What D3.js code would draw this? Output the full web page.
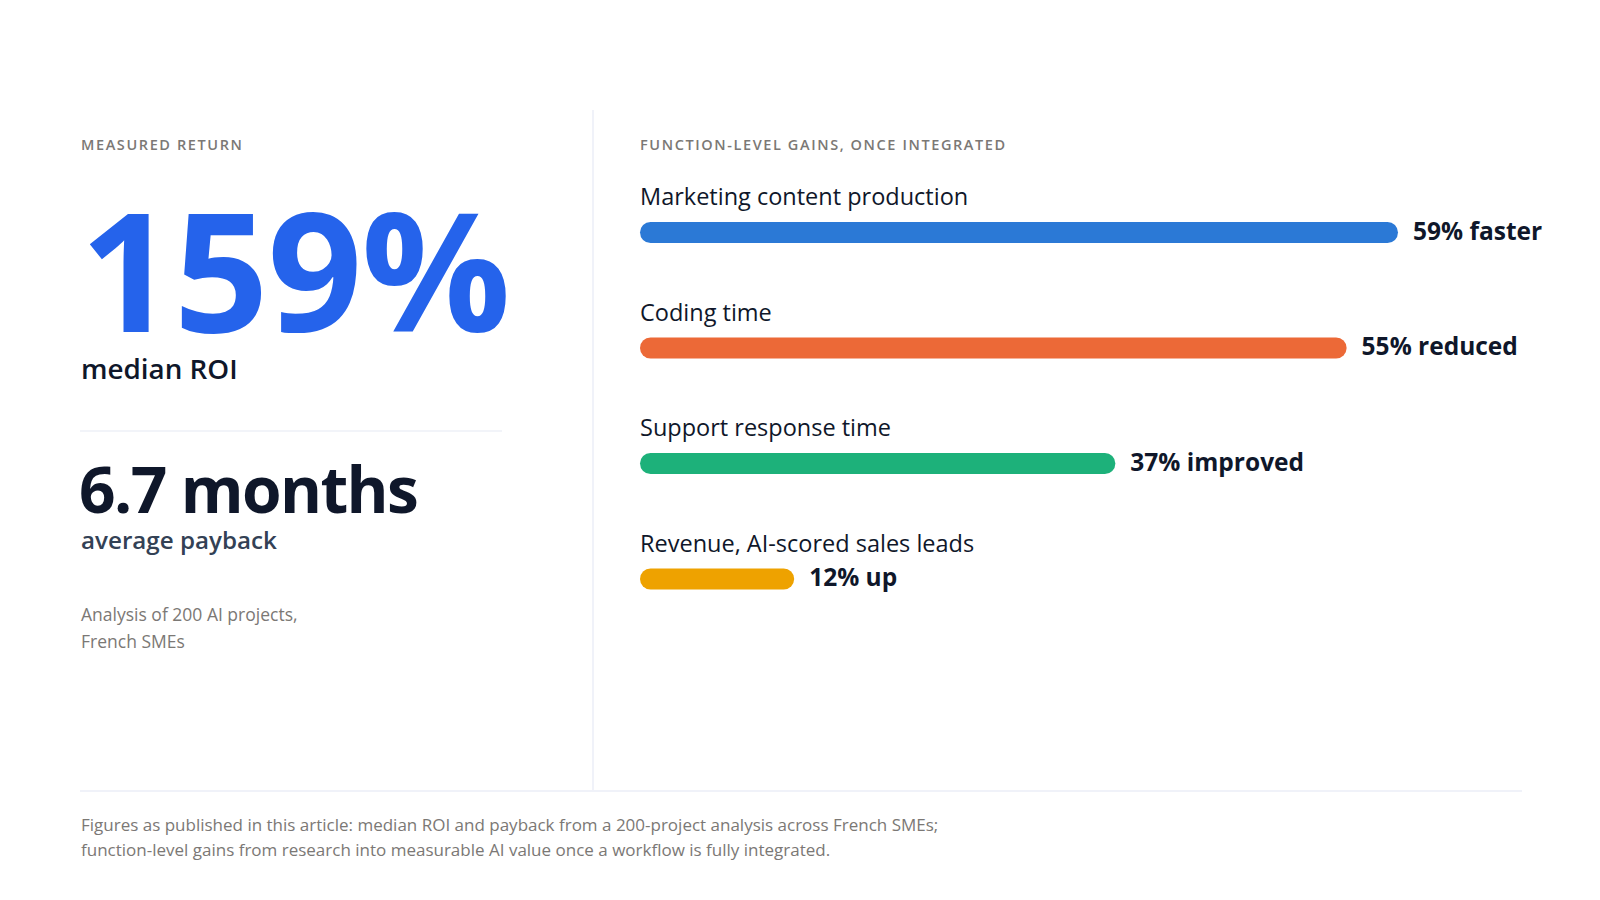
<!DOCTYPE html>
<html>
<head>
<meta charset="utf-8">
<script src="https://cdn.jsdelivr.net/npm/d3@7"></script>
<style>
  html, body { margin: 0; padding: 0; background: #ffffff; }
  svg text { font-family: "Open Sans", "Noto Sans", sans-serif; }
</style>
</head>
<body>
<div class="canvas"></div>
<script>
// ---- DATA --- //
const gainLabels = ['Marketing content production', 'Coding time', 'Support response time', 'Revenue, AI-scored sales leads'];
const gainValues = [59, 55, 37, 12];
const gainWords = ['faster', 'reduced', 'improved', 'up'];

const roiValue = 159;
const paybackMonths = 6.7;

const leftKicker = 'MEASURED RETURN';
const rightKicker = 'FUNCTION-LEVEL GAINS, ONCE INTEGRATED';
const sourceNote = ['Analysis of 200 AI projects,', 'French SMEs'];
const footNote = [
    'Figures as published in this article: median ROI and payback from a 200-project analysis across French SMEs;',
    'function-level gains from research into measurable AI value once a workflow is fully integrated.'
];

const barColors = ['#2b79d6', '#ec6937', '#1db17a', '#eea200'];


// ---- CONTAINER SETUP --- //
const width = 1600;
const height = 900;
const left = 81;
const barLeft = 640;

const svg = d3.select('.canvas')
    .append('svg')
    .attr('width', width)
    .attr('height', height);

// dividers
svg.append('line')
    .attr('x1', 593).attr('x2', 593)
    .attr('y1', 110).attr('y2', 790)
    .attr('stroke', '#f0f2f9').attr('stroke-width', 2);

svg.append('line')
    .attr('x1', 80).attr('x2', 1522)
    .attr('y1', 791).attr('y2', 791)
    .attr('stroke', '#f0f2f9').attr('stroke-width', 2);

svg.append('line')
    .attr('x1', 80).attr('x2', 502)
    .attr('y1', 431).attr('y2', 431)
    .attr('stroke', '#f2f4f9').attr('stroke-width', 2);


// ---- LEFT PANEL --- //
const leftPanel = svg.append('g');

leftPanel.append('text')
    .attr('x', left).attr('y', 150)
    .attr('font-size', 14.5).attr('font-weight', 600)
    .attr('letter-spacing', 1.6)
    .attr('fill', '#7b7875')
    .text(leftKicker);

leftPanel.append('text')
    .attr('x', left - 1).attr('y', 332)
    .attr('font-size', 166).attr('font-weight', 700)
    .attr('letter-spacing', -1.2)
    .attr('fill', '#2563eb')
    .text(`${roiValue}%`);

leftPanel.append('text')
    .attr('x', left).attr('y', 379)
    .attr('font-size', 27.8).attr('font-weight', 600)
    .attr('fill', '#0f172a')
    .text('median ROI');

leftPanel.append('text')
    .attr('x', left - 2).attr('y', 513)
    .attr('font-size', 64).attr('font-weight', 700)
    .attr('letter-spacing', -1.6)
    .attr('fill', '#0f172a')
    .text(`${paybackMonths} months`);

leftPanel.append('text')
    .attr('x', left).attr('y', 549)
    .attr('font-size', 24.2).attr('font-weight', 600)
    .attr('fill', '#334155')
    .text('average payback');

leftPanel.selectAll('text.note')
    .data(sourceNote)
    .enter()
    .append('text')
    .attr('class', 'note')
    .attr('x', left)
    .attr('y', (d, i) => 621 + i * 26.5)
    .attr('font-size', 17.5)
    .attr('fill', '#7b7875')
    .text(d => d);


// ---- RIGHT PANEL: SCALES --- //
const xScale = d3.scaleLinear()
    .domain([0, d3.max(gainValues)])
    .range([barLeft, 1398]);

const rowScale = d3.scalePoint()
    .domain(gainLabels)
    .range([232.5, 579]);

const barHeight = 21;

svg.append('text')
    .attr('x', barLeft).attr('y', 150)
    .attr('font-size', 14.5).attr('font-weight', 600)
    .attr('letter-spacing', 1.6)
    .attr('fill', '#7b7875')
    .text(rightKicker);

const rows = svg.selectAll('g.row')
    .data(gainLabels)
    .enter()
    .append('g')
    .attr('class', 'row')
    .attr('transform', d => `translate(0, ${rowScale(d)})`);

rows.append('text')
    .attr('x', barLeft)
    .attr('y', -27.5)
    .attr('font-size', 23.5)
    .attr('fill', '#0f172a')
    .text(d => d);

rows.append('rect')
    .attr('x', xScale(0))
    .attr('y', -barHeight / 2)
    .attr('width', (d, i) => xScale(gainValues[i]) - xScale(0))
    .attr('height', barHeight)
    .attr('rx', barHeight / 2)
    .attr('fill', (d, i) => barColors[i]);

rows.append('text')
    .attr('x', (d, i) => xScale(gainValues[i]) + 15)
    .attr('y', 7)
    .attr('font-size', 24.5).attr('font-weight', 700)
    .attr('fill', '#0f172a')
    .text((d, i) => `${gainValues[i]}% ${gainWords[i]}`);


// ---- FOOTNOTE --- //
svg.selectAll('text.foot')
    .data(footNote)
    .enter()
    .append('text')
    .attr('class', 'foot')
    .attr('x', left)
    .attr('y', (d, i) => 830.5 + i * 25)
    .attr('font-size', 17)
    .attr('fill', '#7b7875')
    .text(d => d);
</script>
</body>
</html>
